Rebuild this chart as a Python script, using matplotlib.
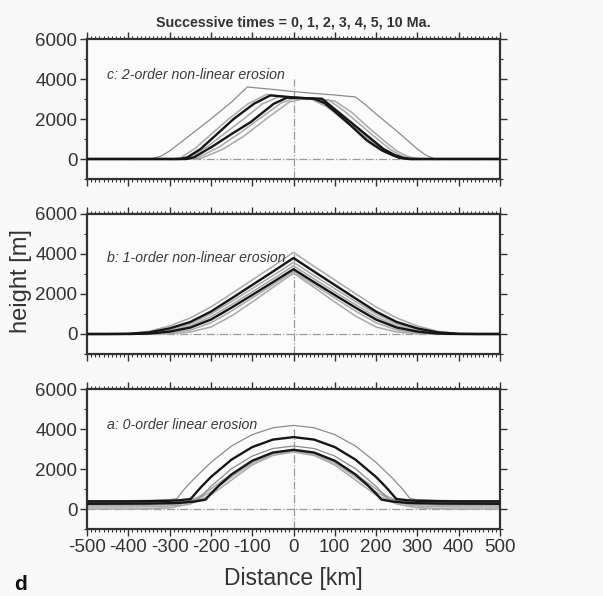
import numpy as np
import matplotlib
matplotlib.use("Agg")
import matplotlib.pyplot as plt
from matplotlib.ticker import MultipleLocator

plt.rcParams.update({
    "font.family": ["Liberation Sans", "DejaVu Sans"],
    "axes.unicode_minus": False,
    "text.color": "#333333",
    "xtick.color": "#333333",
    "ytick.color": "#333333",
})

times_label = "Successive times = 0, 1, 2, 3, 4, 5, 10 Ma."

# ---- panel a: 0-order linear erosion (symmetric, half profiles x >= 0) ----
a_x = [
    [0, 50, 100, 150, 200, 240, 265, 282, 300, 350, 400, 500],
    [0, 50, 100, 150, 200, 225, 249, 275, 300, 350, 400, 500],
    [0, 50, 100, 150, 200, 230, 260, 300, 400, 500],
    [0, 50, 100, 150, 180, 200, 213, 240, 280, 350, 500],
    [0, 50, 100, 150, 200, 230, 260, 300, 350, 500],
    [0, 50, 100, 150, 200, 240, 280, 320, 400, 500],
    [0, 50, 100, 150, 200, 250, 300, 350, 400, 500],
]
a_h = [
    [4180, 4060, 3720, 3150, 2330, 1530, 980, 520, 470, 430, 420, 420],
    [3595, 3470, 3095, 2470, 1600, 1070, 500, 440, 410, 390, 380, 380],
    [3150, 3024, 2645, 2014, 1130, 480, 400, 340, 320, 320],
    [2960, 2823, 2411, 1725, 1181, 764, 470, 370, 300, 270, 260],
    [2920, 2800, 2400, 1750, 1000, 600, 330, 220, 190, 180],
    [2880, 2740, 2300, 1600, 850, 420, 200, 120, 100, 100],
    [2850, 2680, 2200, 1450, 700, 250, 60, 10, 0, 0],
]
a_style = ["thin", "black", "thin", "black", "gray", "gray", "gray"]

# ---- panel b: 1-order non-linear erosion (symmetric) ----
b_x = [0, 50, 100, 150, 200, 250, 300, 350, 400, 450, 500]
b_h = [
    [4080, 3380, 2700, 2020, 1350, 800, 400, 130, 20, 0, 0],
    [3800, 3120, 2450, 1780, 1120, 600, 280, 80, 10, 0, 0],
    [3580, 2920, 2270, 1630, 1000, 500, 220, 60, 5, 0, 0],
    [3410, 2750, 2100, 1470, 860, 400, 160, 40, 0, 0, 0],
    [3240, 2590, 1950, 1320, 720, 320, 120, 20, 0, 0, 0],
    [3130, 2460, 1800, 1150, 560, 200, 50, 5, 0, 0, 0],
    [3040, 2330, 1600, 900, 350, 100, 15, 0, 0, 0, 0],
]
b_style = ["gray", "black", "gray", "gray", "black", "gray", "gray"]

# ---- panel c: 2-order non-linear erosion (asymmetric, full profiles) ----
c_x = [
    [-500, -360, -340, -320, -300, -250, -200, -150, -112, -50, 0, 50, 100, 150,
     175, 200, 250, 300, 320, 340, 360, 500],
    [-500, -290, -272, -240, -160, -110, -65, -20, 20, 40, 80, 120, 160, 200,
     235, 255, 275, 500],
    [-500, -275, -257, -225, -185, -145, -96, -56, 0, 49, 75, 97, 140, 178,
     215, 242, 258, 280, 500],
    [-500, -268, -249, -210, -125, -75, -35, 20, 55, 95, 135, 175, 215, 245,
     262, 280, 500],
    [-500, -260, -241, -193, -150, -104, -48, -16, 30, 69, 100, 137, 180, 218,
     245, 266, 285, 500],
    [-500, -250, -230, -180, -130, -80, -30, 0, 40, 85, 120, 160, 200, 235,
     260, 280, 300, 500],
    [-500, -240, -220, -170, -120, -60, -10, 20, 60, 100, 140, 180, 220, 250,
     275, 295, 315, 500],
]
c_h = [
    [0, 0, 30, 150, 400, 1200, 2000, 2850, 3600, 3480, 3370, 3280, 3200, 3100,
     2700, 2250, 1400, 500, 200, 20, 0, 0],
    [0, 0, 80, 500, 1950, 2760, 3230, 3120, 3060, 3020, 2620, 1980, 1300, 680,
     230, 80, 0, 0],
    [0, 0, 80, 500, 1250, 2000, 2760, 3180, 3080, 3015, 2800, 2430, 1650, 920,
     420, 170, 50, 0, 0],
    [0, 0, 80, 600, 1930, 2760, 3120, 3050, 3015, 2500, 1800, 1100, 480, 160,
     50, 0, 0],
    [0, 0, 80, 670, 1250, 1840, 2760, 3065, 3040, 3015, 2490, 1870, 1140, 500,
     200, 50, 0, 0],
    [0, 0, 80, 600, 1300, 2050, 2800, 3020, 3010, 2950, 2450, 1750, 1050, 470,
     170, 50, 0, 0],
    [0, 0, 60, 500, 1150, 2100, 2850, 2990, 2980, 2900, 2350, 1600, 900, 400,
     140, 40, 0, 0],
]
c_style = ["thin", "gray", "black", "gray", "black", "gray", "gray"]

line_kw = {
    "thin": dict(color="#8c8c8c", lw=0.9, zorder=3),
    "gray": dict(color="#ababab", lw=1.15, zorder=2),
    "black": dict(color="#161616", lw=1.7, zorder=4),
}


def mirror(x, h):
    x = np.asarray(x, float)
    h = np.asarray(h, float)
    return np.concatenate([-x[::-1], x[1:]]), np.concatenate([h[::-1], h[1:]])


def setup_axis(ax, label, label_y, show_xlabels):
    ax.set_xlim(-500, 500)
    ax.set_ylim(-1000, 6000)
    ax.set_facecolor("#fbfbfb")
    ax.xaxis.set_major_locator(MultipleLocator(100))
    ax.xaxis.set_minor_locator(MultipleLocator(10))
    ax.yaxis.set_major_locator(MultipleLocator(2000))
    ax.yaxis.set_minor_locator(MultipleLocator(1000))
    ax.tick_params(which="both", direction="out", top=True, right=True,
                   labelsize=13.5, pad=2, width=1, color="#333333")
    ax.tick_params(which="major", length=5)
    ax.tick_params(which="minor", length=2.5, width=0.8)
    if not show_xlabels:
        ax.set_xticklabels([])
    for sp in ax.spines.values():
        sp.set_linewidth(1.6)
        sp.set_color("#333333")
    # reference lines
    ax.plot([-500, 500], [0, 0], color="#9a9a9a", lw=0.9, ls="-.", zorder=1)
    ax.plot([0, 0], [-1000, 4000], color="#9a9a9a", lw=0.9, ls="-.", zorder=1)
    ax.text(-452, label_y, label, style="italic", fontsize=10.2,
            color="#3c3c3c", va="center", ha="left")


fig = plt.figure(figsize=(6.03, 5.96), dpi=100, facecolor="#f9f9f9")
left, width, height = 87 / 603, 413 / 603, 140 / 596
ax_c = fig.add_axes([left, 1 - 179 / 596, width, height])
ax_b = fig.add_axes([left, 1 - 354 / 596, width, height])
ax_a = fig.add_axes([left, 1 - 529 / 596, width, height])

setup_axis(ax_c, "c: 2-order non-linear erosion", 4200, False)
setup_axis(ax_b, "b: 1-order non-linear erosion", 3800, False)
setup_axis(ax_a, "a: 0-order linear erosion", 4200, True)

for x, h, s in zip(a_x, a_h, a_style):
    xx, hh = mirror(x, h)
    ax_a.plot(xx, hh, **line_kw[s])

for h, s in zip(b_h, b_style):
    xx, hh = mirror(b_x, h)
    ax_b.plot(xx, hh, **line_kw[s])

for x, h, s in zip(c_x, c_h, c_style):
    ax_c.plot(x, h, **line_kw[s])

ax_c.set_title(times_label, fontsize=10.3, fontweight="bold", pad=9)

fig.text(0.034, 1 - 281 / 596, "height [m]", rotation=90, fontsize=17,
         va="center", ha="center", color="#333333")
fig.text(left + width / 2, 1 - 579 / 596, "Distance [km]", fontsize=16.5,
         va="center", ha="center", color="#333333")
fig.text(0.024, 0.004, "d", fontsize=15, fontweight="bold", va="bottom",
         color="#111111")

fig.savefig("out.png", dpi=100, facecolor=fig.get_facecolor())
